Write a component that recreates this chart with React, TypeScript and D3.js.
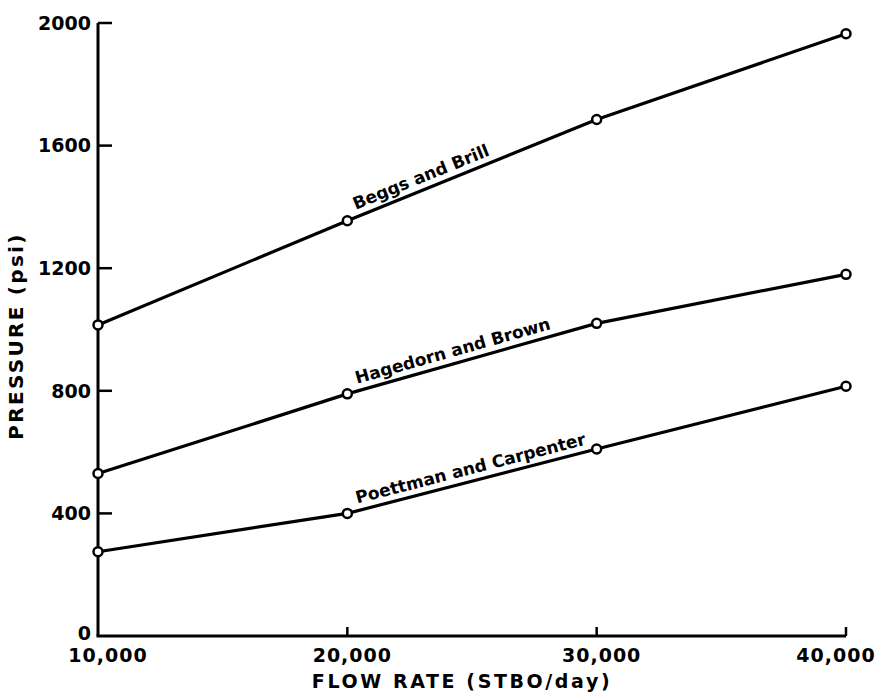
import React, { useEffect, useRef } from "react";
import * as d3 from "d3";

// Flow rates (STBO/day) at which each correlation was evaluated
const flowRates = [10000, 20000, 30000, 40000];

// Predicted pressure (psi) for each correlation
const beggsBrill = [1015, 1355, 1685, 1965];
const hagedornBrown = [530, 790, 1020, 1180];
const poettmanCarpenter = [275, 400, 610, 815];

const seriesNames = ["Beggs and Brill", "Hagedorn and Brown", "Poettman and Carpenter"];
const seriesValues = [beggsBrill, hagedornBrown, poettmanCarpenter];

const yTicks = [0, 400, 800, 1200, 1600, 2000];
const xTicks = [10000, 20000, 30000, 40000];

const W = 878;
const H = 696;
const FONT = "'DejaVu Sans', sans-serif";

export default function App() {
  const ref = useRef<SVGSVGElement | null>(null);

  useEffect(() => {
    const svg = d3.select(ref.current);
    svg.selectAll("*").remove();

    const x = d3.scaleLinear().domain([10000, 40000]).range([98, 846]);
    const y = d3.scaleLinear().domain([0, 2000]).range([636, 23]);

    const g = svg.append("g");

    // axes: left spine with inward ticks, bottom spine with upward ticks
    g.append("line")
      .attr("x1", x(10000)).attr("x2", x(10000))
      .attr("y1", y(2000)).attr("y2", y(0))
      .attr("stroke", "#000").attr("stroke-width", 3);
    g.append("line")
      .attr("x1", x(10000) - 1.5).attr("x2", x(40000))
      .attr("y1", y(0)).attr("y2", y(0))
      .attr("stroke", "#000").attr("stroke-width", 3);

    yTicks.filter((t) => t > 0).forEach((t) => {
      g.append("line")
        .attr("x1", x(10000)).attr("x2", x(10000) + 14)
        .attr("y1", y(t)).attr("y2", y(t))
        .attr("stroke", "#000").attr("stroke-width", 2.5);
    });
    xTicks.filter((t) => t > 10000).forEach((t) => {
      g.append("line")
        .attr("x1", x(t)).attr("x2", x(t))
        .attr("y1", y(0)).attr("y2", y(0) - 9)
        .attr("stroke", "#000").attr("stroke-width", 2.5);
    });

    // y tick labels (the zero label sits a little higher to clear the x labels)
    g.selectAll("text.ytick")
      .data(yTicks)
      .enter()
      .append("text")
      .attr("class", "ytick")
      .attr("x", x(10000) - 7)
      .attr("y", (d) => (d === 0 ? y(d) - 3 : y(d)))
      .attr("dy", "0.36em")
      .attr("text-anchor", "end")
      .attr("font-family", FONT)
      .attr("font-weight", "bold")
      .attr("font-size", 19)
      .text((d) => String(d));

    // x tick labels; outer labels nudged inward
    const fmt = d3.format(",");
    g.selectAll("text.xtick")
      .data(xTicks)
      .enter()
      .append("text")
      .attr("class", "xtick")
      .attr("x", (d, i) => x(d) + (i === 0 ? 10 : i === xTicks.length - 1 ? -10 : 5))
      .attr("y", 662)
      .attr("text-anchor", "middle")
      .attr("font-family", FONT)
      .attr("font-weight", "bold")
      .attr("font-size", 19)
      .attr("letter-spacing", 1)
      .text((d) => fmt(d));

    // axis titles
    g.append("text")
      .attr("x", 462)
      .attr("y", 688)
      .attr("text-anchor", "middle")
      .attr("font-family", FONT)
      .attr("font-weight", "bold")
      .attr("font-size", 19)
      .attr("letter-spacing", 2.6)
      .text("FLOW RATE (STBO/day)");

    g.append("text")
      .attr("transform", `translate(23,336) rotate(-90)`)
      .attr("text-anchor", "middle")
      .attr("font-family", FONT)
      .attr("font-weight", "bold")
      .attr("font-size", 20)
      .attr("letter-spacing", 2.3)
      .text("PRESSURE (psi)");

    const line = d3
      .line<number>()
      .x((_, i) => x(flowRates[i]))
      .y((d) => y(d));

    seriesValues.forEach((vals, si) => {
      g.append("path")
        .attr("d", line(vals) as string)
        .attr("fill", "none")
        .attr("stroke", "#000")
        .attr("stroke-width", 3.2)
        .attr("stroke-linejoin", "round");

      g.selectAll(`circle.s${si}`)
        .data(vals)
        .enter()
        .append("circle")
        .attr("class", `s${si}`)
        .attr("cx", (_, i) => x(flowRates[i]))
        .attr("cy", (d) => y(d))
        .attr("r", 4.5)
        .attr("fill", "#fff")
        .attr("stroke", "#000")
        .attr("stroke-width", 2.5);

      // label laid along the segment starting at 20,000
      const x1 = x(flowRates[1]);
      const y1 = y(vals[1]);
      const x2 = x(flowRates[2]);
      const y2 = y(vals[2]);
      const len = Math.hypot(x2 - x1, y2 - y1);
      const ux = (x2 - x1) / len;
      const uy = (y2 - y1) / len;
      const ang = (Math.atan2(y2 - y1, x2 - x1) * 180) / Math.PI;
      const along = 12;
      const above = 7;
      const tx = x1 + ux * along + uy * above;
      const ty = y1 + uy * along - ux * above;
      g.append("text")
        .attr("transform", `translate(${tx},${ty}) rotate(${ang})`)
        .attr("font-family", FONT)
        .attr("font-weight", "bold")
        .attr("font-size", 17)
        .text(seriesNames[si]);
    });
  }, []);

  return (
    <div style={{ position: "fixed", left: 0, top: 0, width: W, height: H, background: "#fff" }}>
      <svg ref={ref} width={W} height={H} style={{ display: "block" }} />
    </div>
  );
}
